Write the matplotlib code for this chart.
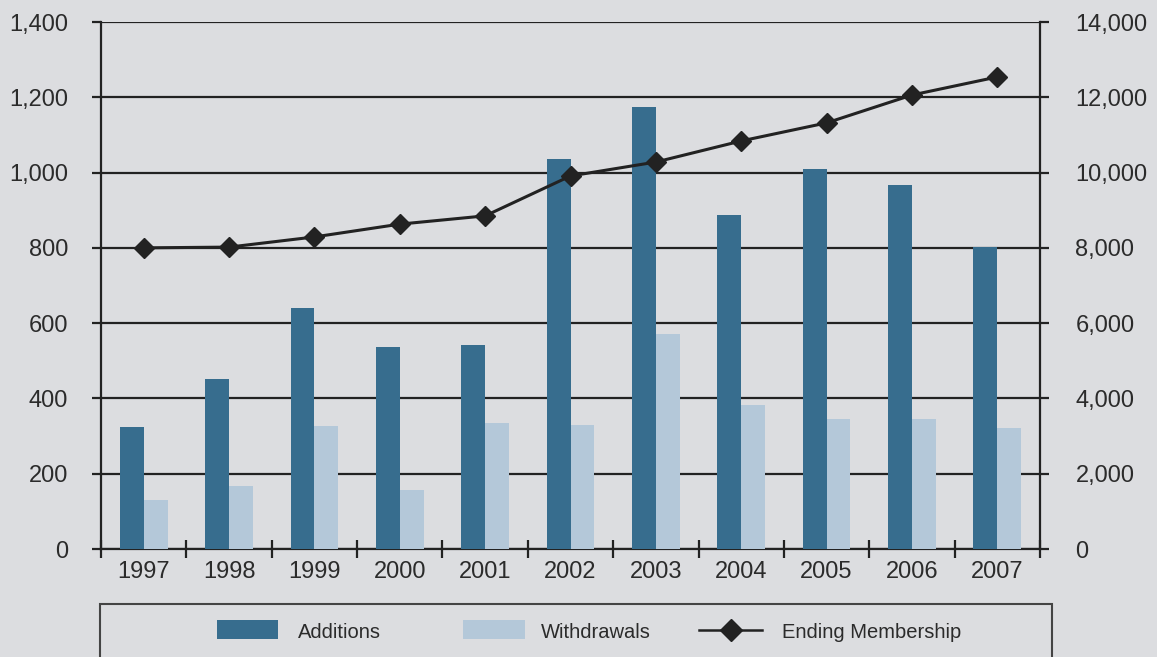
import matplotlib
matplotlib.use("Agg")
import matplotlib.pyplot as plt
from matplotlib.patches import Rectangle
from matplotlib.lines import Line2D
from matplotlib.ticker import FuncFormatter, FixedLocator
import numpy as np

years = ["1997", "1998", "1999", "2000", "2001", "2002", "2003", "2004", "2005", "2006", "2007"]
additions = [324, 452, 640, 537, 542, 1036, 1174, 887, 1010, 967, 802]
withdrawals = [130, 167, 327, 157, 335, 329, 571, 383, 345, 345, 322]
ending_membership = [8000, 8020, 8290, 8630, 8850, 9910, 10280, 10840, 11320, 12060, 12540]

left_ticks = [0, 200, 400, 600, 800, 1000, 1200, 1400]
right_ticks = [0, 2000, 4000, 6000, 8000, 10000, 12000, 14000]
legend_labels = ["Additions", "Withdrawals", "Ending Membership"]

BG = "#dcdde0"
DARK = "#376d8e"
LIGHT = "#b4c8d9"
INK = "#222222"
TEXT = "#2b2b2b"

plt.rcParams["font.family"] = ["Liberation Sans", "DejaVu Sans"]

W, H = 1157, 657
fig = plt.figure(figsize=(W / 100, H / 100), dpi=100, facecolor=BG)
ax = fig.add_axes([101 / W, 1 - 549 / H, (1040 - 101) / W, (549 - 22) / H])
ax.set_facecolor(BG)

x = np.arange(len(years))
bw = 0.28
ax.bar(x - bw / 2, additions, width=bw, color=DARK, zorder=3)
ax.bar(x + bw / 2, withdrawals, width=bw, color=LIGHT, zorder=3)

ax.set_xlim(-0.5, len(years) - 0.5)
ax.set_ylim(0, 1400)
ax.set_yticks(left_ticks)
ax.yaxis.set_major_formatter(FuncFormatter(lambda v, p: f"{int(v):,}"))
ax.grid(axis="y", color=INK, linewidth=1.6, zorder=1)
ax.set_axisbelow(True)

# category labels at group centres, boundary ticks crossing the baseline
ax.set_xticks(x)
ax.set_xticklabels(years)
ax.tick_params(axis="x", which="major", length=0, pad=9, labelsize=17, labelcolor=TEXT)
ax.xaxis.set_minor_locator(FixedLocator(np.arange(-0.5, len(years), 1.0)))
ax.tick_params(axis="x", which="minor", direction="inout", length=13, width=1.6, color=INK)
ax.tick_params(axis="y", direction="out", length=6.5, width=1.6, color=INK,
               pad=17, labelsize=17, labelcolor=TEXT)

for side in ["left", "right", "bottom", "top"]:
    ax.spines[side].set_color(INK)
    ax.spines[side].set_linewidth(1.6)
ax.spines["top"].set_visible(False)

ax2 = ax.twinx()
ax2.set_ylim(0, 14000)
ax2.set_yticks(right_ticks)
ax2.yaxis.set_major_formatter(FuncFormatter(lambda v, p: f"{int(v):,}"))
ax2.tick_params(axis="y", direction="out", length=6.5, width=1.6, color=INK,
                pad=19, labelsize=17, labelcolor=TEXT)
for side in ["left", "right", "bottom", "top"]:
    ax2.spines[side].set_visible(False)
ax2.plot(x, ending_membership, color=INK, linewidth=2.2, marker="D", markersize=10.5,
         markerfacecolor=INK, markeredgecolor=INK, zorder=5)

# legend frame, running off the bottom edge
fig.patches.append(Rectangle((100 / W, -0.05), (1052 - 100) / W, 0.05 + (1 - 604 / H),
                             transform=fig.transFigure, facecolor="none",
                             edgecolor="#444444", linewidth=1.5))

# legend keys and labels laid out in pixel coordinates
ky = 1 - 630 / H
fig.patches.append(Rectangle((217 / W, 1 - 639 / H), 61 / W, 19 / H,
                             transform=fig.transFigure, facecolor=DARK, edgecolor="none"))
fig.patches.append(Rectangle((463 / W, 1 - 639 / H), 62 / W, 19 / H,
                             transform=fig.transFigure, facecolor=LIGHT, edgecolor="none"))
fig.lines.append(Line2D([699 / W, 762 / W], [ky, ky], transform=fig.transFigure,
                        color=INK, linewidth=1.8))
fig.lines.append(Line2D([730.5 / W], [ky], transform=fig.transFigure, marker="D",
                        markersize=11, color=INK, markerfacecolor=INK, markeredgecolor=INK))
for xpos, label in zip([298, 541, 782], legend_labels):
    fig.text(xpos / W, ky, label, ha="left", va="center_baseline", fontsize=14.5,
             color=TEXT)

fig.savefig("out.png", dpi=100, facecolor=BG)
